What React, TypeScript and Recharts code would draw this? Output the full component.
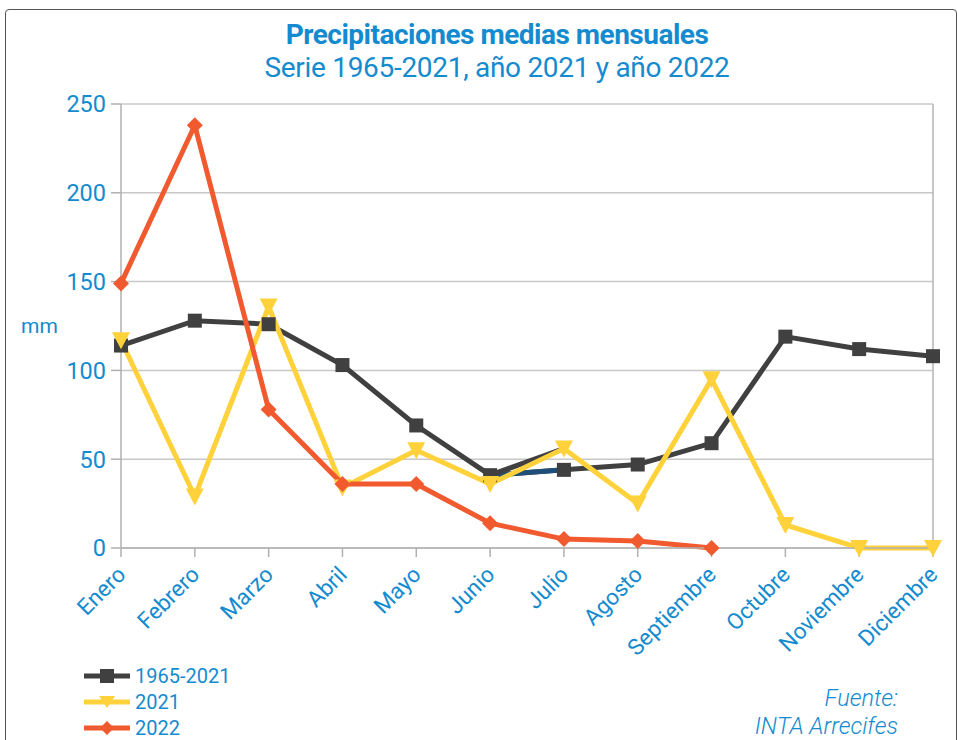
import React from "react";
import {
  LineChart,
  Line,
  XAxis,
  YAxis,
  CartesianGrid,
  ReferenceLine,
} from "recharts";

const months = [
  "Enero",
  "Febrero",
  "Marzo",
  "Abril",
  "Mayo",
  "Junio",
  "Julio",
  "Agosto",
  "Septiembre",
  "Octubre",
  "Noviembre",
  "Diciembre",
];
const serie19652021 = [114, 128, 126, 103, 69, 41, 44, 47, 59, 119, 112, 108];
const anio2021 = [117, 29, 136, 34, 55, 36, 56, 25, 95, 13, 0, 0];
const anio2022 = [149, 238, 78, 36, 36, 14, 5, 4, 0, null, null, null];
// stray segments visible in the original image around Junio–Julio
const tramoAzul = [null, null, null, null, null, 41, 44, null, null, null, null, null];
const tramoGris = [null, null, null, null, null, 41, 56, null, null, null, null, null];
const yTicks = [0, 50, 100, 150, 200, 250];

const BLUE = "#158bcf";
const GRAY = "#404040";
const YELLOW = "#ffd23c";
const RED = "#f15a2f";
const FONT = "Roboto, 'Noto Sans', sans-serif";

const data = months.map((mes, i) => ({
  mes,
  serie: serie19652021[i],
  a2021: anio2021[i],
  a2022: anio2022[i],
  azul: tramoAzul[i],
  gris: tramoGris[i],
}));

const SquareDot = (props: any) => {
  const { cx, cy, value, index } = props;
  if (value == null || cx == null || cy == null) return <g key={index} />;
  return <rect key={index} x={cx - 7} y={cy - 7} width={14} height={14} fill={GRAY} />;
};

const TriangleDot = (props: any) => {
  const { cx, cy, value, index } = props;
  if (value == null || cx == null || cy == null) return <g key={index} />;
  return (
    <polygon
      key={index}
      points={`${cx - 9},${cy - 8} ${cx + 9},${cy - 8} ${cx},${cy + 9}`}
      fill={YELLOW}
    />
  );
};

const DiamondDot = (props: any) => {
  const { cx, cy, value, index } = props;
  if (value == null || cx == null || cy == null) return <g key={index} />;
  return (
    <polygon
      key={index}
      points={`${cx},${cy - 8} ${cx + 8},${cy} ${cx},${cy + 8} ${cx - 8},${cy}`}
      fill={RED}
    />
  );
};

const MonthTick = (props: any) => {
  const { x, y, payload } = props;
  const tx = x + 6;
  const ty = y + 17;
  return (
    <text
      x={tx}
      y={ty}
      transform={`rotate(-45, ${tx}, ${ty})`}
      textAnchor="end"
      fill={BLUE}
      fontSize={22.5}
      fontFamily={FONT}
    >
      {payload.value}
    </text>
  );
};

const legendItems = [
  { name: "1965-2021", color: GRAY, shape: "square" },
  { name: "2021", color: YELLOW, shape: "triangle" },
  { name: "2022", color: RED, shape: "diamond" },
];

function LegendBox() {
  return (
    <div style={{ position: "absolute", left: 84, top: 663 }}>
      {legendItems.map((it) => (
        <div key={it.name} style={{ display: "flex", alignItems: "center", height: 26 }}>
          <svg width={46} height={20}>
            <line x1={0} y1={10} x2={46} y2={10} stroke={it.color} strokeWidth={5} />
            {it.shape === "square" && <rect x={16} y={3} width={14} height={14} fill={it.color} />}
            {it.shape === "triangle" && <polygon points="15,4 31,4 23,16" fill={it.color} />}
            {it.shape === "diamond" && <polygon points="23,3 30,10 23,17 16,10" fill={it.color} />}
          </svg>
          <span style={{ marginLeft: 5, fontSize: 20, color: BLUE, fontFamily: FONT }}>{it.name}</span>
        </div>
      ))}
    </div>
  );
}

export default function App() {
  return (
    <div
      style={{
        position: "absolute",
        left: 0,
        top: 0,
        width: 957,
        height: 740,
        background: "#fff",
        overflow: "hidden",
        fontFamily: FONT,
      }}
    >
      <div
        style={{
          position: "absolute",
          left: 5,
          top: 9,
          width: 950,
          height: 760,
          border: "1.5px solid #555",
          borderRadius: 4,
        }}
      />
      <div
        style={{
          position: "absolute",
          left: 0,
          width: 994,
          top: 18,
          textAlign: "center",
          color: BLUE,
          fontSize: 28,
          fontWeight: 700,
          letterSpacing: -0.5,
          whiteSpace: "nowrap",
        }}
      >
        Precipitaciones medias mensuales
      </div>
      <div
        style={{
          position: "absolute",
          left: 0,
          width: 994,
          top: 51,
          textAlign: "center",
          color: BLUE,
          fontSize: 28,
          letterSpacing: -0.3,
          whiteSpace: "nowrap",
        }}
      >
        Serie 1965-2021, año 2021 y año 2022
      </div>
      <div style={{ position: "absolute", left: 0, top: 0 }}>
        <LineChart
          width={957}
          height={740}
          data={data}
          margin={{ top: 104, right: 24, bottom: 92, left: 0 }}
        >
          <CartesianGrid vertical={false} stroke="#c8c8c8" strokeWidth={1.5} />
          <ReferenceLine x="Diciembre" stroke="#b4b4b4" strokeWidth={1.5} />
          <XAxis
            dataKey="mes"
            interval={0}
            height={100}
            tickSize={9}
            stroke="#b0b0b0"
            strokeWidth={1.5}
            tick={<MonthTick />}
          />
          <YAxis
            width={121}
            domain={[0, 250]}
            ticks={yTicks}
            tickSize={10}
            tickMargin={5}
            stroke="#b0b0b0"
            strokeWidth={1.5}
            tick={{ fill: BLUE, fontSize: 23.5, fontFamily: FONT }}
            label={{
              value: "mm",
              position: "insideLeft",
              offset: 21,
              fill: BLUE,
              fontSize: 21,
              fontFamily: FONT,
            }}
          />
          <Line
            dataKey="serie"
            stroke={GRAY}
            strokeWidth={5}
            dot={SquareDot}
            activeDot={false}
            isAnimationActive={false}
          />
          <Line
            dataKey="azul"
            stroke="#1f4e79"
            strokeWidth={5}
            dot={false}
            activeDot={false}
            isAnimationActive={false}
          />
          <Line
            dataKey="gris"
            stroke={GRAY}
            strokeWidth={5}
            dot={false}
            activeDot={false}
            isAnimationActive={false}
          />
          <Line
            dataKey="a2021"
            stroke={YELLOW}
            strokeWidth={5}
            dot={TriangleDot}
            activeDot={false}
            isAnimationActive={false}
          />
          <Line
            dataKey="a2022"
            stroke={RED}
            strokeWidth={5}
            dot={DiamondDot}
            activeDot={false}
            isAnimationActive={false}
          />
        </LineChart>
      </div>
      <LegendBox />
      <div
        style={{
          position: "absolute",
          right: 59,
          top: 684,
          textAlign: "right",
          color: BLUE,
          fontSize: 23.5,
          fontStyle: "italic",
          fontWeight: 300,
          lineHeight: "28px",
        }}
      >
        Fuente:
        <br />
        INTA Arrecifes
      </div>
    </div>
  );
}
